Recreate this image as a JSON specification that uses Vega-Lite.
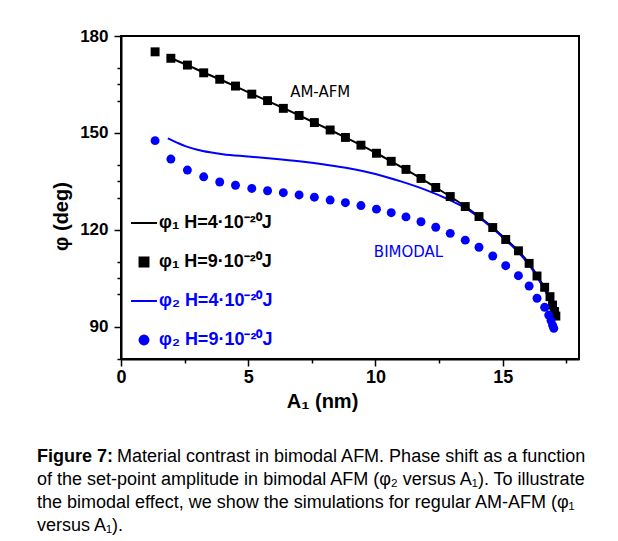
{
  "$schema": "https://vega.github.io/schema/vega-lite/v6.json",
  "width": 458,
  "height": 323,
  "autosize": {"type": "none"},
  "padding": {"left": 121, "top": 36, "right": 39, "bottom": 182},
  "background": "white",
  "config": {
    "view": {"stroke": "black", "strokeWidth": 2},
    "font": "Liberation Sans"
  },
  "title": {
    "text": "Figure 7:",
    "subtitle": [
      "\u200b\u00a0\u00a0\u00a0\u00a0\u00a0\u00a0\u00a0\u00a0\u00a0\u00a0\u00a0\u00a0\u00a0\u00a0\u00a0\u00a0Material contrast in bimodal AFM. Phase shift as a function",
      "of the set-point amplitude in bimodal AFM (φ₂ versus A₁). To illustrate",
      "the bimodal effect, we show the simulations for regular AM-AFM (φ₁",
      "versus A₁)."
    ],
    "orient": "bottom",
    "anchor": "start",
    "frame": "group",
    "font": "Liberation Sans",
    "fontSize": 18,
    "fontWeight": "bold",
    "color": "black",
    "subtitleFont": "Liberation Sans",
    "subtitleFontSize": 18,
    "subtitleFontWeight": "normal",
    "subtitleColor": "black",
    "subtitleLineHeight": 23,
    "subtitlePadding": -18,
    "offset": 37,
    "dx": -84
  },
  "datasets": {
    "lines": [
      {"series": "φ₁ H=4·10⁻²⁰J", "A1": 1.96, "phi": 173.1},
      {"series": "φ₁ H=4·10⁻²⁰J", "A1": 2.61, "phi": 171.0},
      {"series": "φ₁ H=4·10⁻²⁰J", "A1": 3.25, "phi": 168.7},
      {"series": "φ₁ H=4·10⁻²⁰J", "A1": 3.88, "phi": 166.6},
      {"series": "φ₁ H=4·10⁻²⁰J", "A1": 4.5, "phi": 164.4},
      {"series": "φ₁ H=4·10⁻²⁰J", "A1": 5.14, "phi": 162.1},
      {"series": "φ₁ H=4·10⁻²⁰J", "A1": 5.76, "phi": 159.9},
      {"series": "φ₁ H=4·10⁻²⁰J", "A1": 6.38, "phi": 157.7},
      {"series": "φ₁ H=4·10⁻²⁰J", "A1": 7.0, "phi": 155.4},
      {"series": "φ₁ H=4·10⁻²⁰J", "A1": 7.6, "phi": 153.2},
      {"series": "φ₁ H=4·10⁻²⁰J", "A1": 8.22, "phi": 150.9},
      {"series": "φ₁ H=4·10⁻²⁰J", "A1": 8.82, "phi": 148.6},
      {"series": "φ₁ H=4·10⁻²⁰J", "A1": 9.43, "phi": 146.2},
      {"series": "φ₁ H=4·10⁻²⁰J", "A1": 10.04, "phi": 143.7},
      {"series": "φ₁ H=4·10⁻²⁰J", "A1": 10.62, "phi": 141.2},
      {"series": "φ₁ H=4·10⁻²⁰J", "A1": 11.2, "phi": 138.6},
      {"series": "φ₁ H=4·10⁻²⁰J", "A1": 11.79, "phi": 135.9},
      {"series": "φ₁ H=4·10⁻²⁰J", "A1": 12.37, "phi": 133.1},
      {"series": "φ₁ H=4·10⁻²⁰J", "A1": 12.94, "phi": 130.3},
      {"series": "φ₁ H=4·10⁻²⁰J", "A1": 13.53, "phi": 127.2},
      {"series": "φ₁ H=4·10⁻²⁰J", "A1": 14.07, "phi": 124.1},
      {"series": "φ₁ H=4·10⁻²⁰J", "A1": 14.61, "phi": 120.7},
      {"series": "φ₁ H=4·10⁻²⁰J", "A1": 15.12, "phi": 117.1},
      {"series": "φ₁ H=4·10⁻²⁰J", "A1": 15.62, "phi": 113.4},
      {"series": "φ₁ H=4·10⁻²⁰J", "A1": 16.04, "phi": 109.6},
      {"series": "φ₁ H=4·10⁻²⁰J", "A1": 16.35, "phi": 105.9},
      {"series": "φ₁ H=4·10⁻²⁰J", "A1": 16.65, "phi": 102.0},
      {"series": "φ₁ H=4·10⁻²⁰J", "A1": 16.86, "phi": 98.9},
      {"series": "φ₁ H=4·10⁻²⁰J", "A1": 16.98, "phi": 96.0},
      {"series": "φ₁ H=4·10⁻²⁰J", "A1": 17.05, "phi": 94.0},
      {"series": "φ₁ H=4·10⁻²⁰J", "A1": 17.08, "phi": 93.0},
      {"series": "φ₂ H=4·10⁻²⁰J", "A1": 1.84, "phi": 148.3},
      {"series": "φ₂ H=4·10⁻²⁰J", "A1": 2.2, "phi": 147.0},
      {"series": "φ₂ H=4·10⁻²⁰J", "A1": 2.53, "phi": 145.9},
      {"series": "φ₂ H=4·10⁻²⁰J", "A1": 3.0, "phi": 144.8},
      {"series": "φ₂ H=4·10⁻²⁰J", "A1": 3.5, "phi": 144.0},
      {"series": "φ₂ H=4·10⁻²⁰J", "A1": 4.0, "phi": 143.4},
      {"series": "φ₂ H=4·10⁻²⁰J", "A1": 5.0, "phi": 142.7},
      {"series": "φ₂ H=4·10⁻²⁰J", "A1": 6.0, "phi": 142.0},
      {"series": "φ₂ H=4·10⁻²⁰J", "A1": 7.0, "phi": 141.2},
      {"series": "φ₂ H=4·10⁻²⁰J", "A1": 8.0, "phi": 140.2},
      {"series": "φ₂ H=4·10⁻²⁰J", "A1": 9.0, "phi": 139.0},
      {"series": "φ₂ H=4·10⁻²⁰J", "A1": 10.0, "phi": 137.3},
      {"series": "φ₂ H=4·10⁻²⁰J", "A1": 11.0, "phi": 135.0},
      {"series": "φ₂ H=4·10⁻²⁰J", "A1": 12.0, "phi": 132.3},
      {"series": "φ₂ H=4·10⁻²⁰J", "A1": 12.9, "phi": 129.3},
      {"series": "φ₂ H=4·10⁻²⁰J", "A1": 13.5, "phi": 126.9},
      {"series": "φ₂ H=4·10⁻²⁰J", "A1": 14.07, "phi": 123.8},
      {"series": "φ₂ H=4·10⁻²⁰J", "A1": 14.61, "phi": 120.4},
      {"series": "φ₂ H=4·10⁻²⁰J", "A1": 15.12, "phi": 116.8},
      {"series": "φ₂ H=4·10⁻²⁰J", "A1": 15.62, "phi": 113.0},
      {"series": "φ₂ H=4·10⁻²⁰J", "A1": 16.04, "phi": 109.1},
      {"series": "φ₂ H=4·10⁻²⁰J", "A1": 16.35, "phi": 105.4},
      {"series": "φ₂ H=4·10⁻²⁰J", "A1": 16.65, "phi": 101.4},
      {"series": "φ₂ H=4·10⁻²⁰J", "A1": 16.86, "phi": 98.1},
      {"series": "φ₂ H=4·10⁻²⁰J", "A1": 16.98, "phi": 95.0},
      {"series": "φ₂ H=4·10⁻²⁰J", "A1": 17.03, "phi": 93.0}
    ],
    "points": [
      {"series": "φ₁ H=9·10⁻²⁰J", "A1": 1.34, "phi": 175.1},
      {"series": "φ₁ H=9·10⁻²⁰J", "A1": 1.96, "phi": 173.1},
      {"series": "φ₁ H=9·10⁻²⁰J", "A1": 2.61, "phi": 171.0},
      {"series": "φ₁ H=9·10⁻²⁰J", "A1": 3.25, "phi": 168.6},
      {"series": "φ₁ H=9·10⁻²⁰J", "A1": 3.88, "phi": 166.6},
      {"series": "φ₁ H=9·10⁻²⁰J", "A1": 4.5, "phi": 164.5},
      {"series": "φ₁ H=9·10⁻²⁰J", "A1": 5.14, "phi": 162.0},
      {"series": "φ₁ H=9·10⁻²⁰J", "A1": 5.76, "phi": 160.0},
      {"series": "φ₁ H=9·10⁻²⁰J", "A1": 6.38, "phi": 157.6},
      {"series": "φ₁ H=9·10⁻²⁰J", "A1": 7.0, "phi": 155.4},
      {"series": "φ₁ H=9·10⁻²⁰J", "A1": 7.6, "phi": 153.2},
      {"series": "φ₁ H=9·10⁻²⁰J", "A1": 8.22, "phi": 150.9},
      {"series": "φ₁ H=9·10⁻²⁰J", "A1": 8.82, "phi": 148.6},
      {"series": "φ₁ H=9·10⁻²⁰J", "A1": 9.43, "phi": 146.2},
      {"series": "φ₁ H=9·10⁻²⁰J", "A1": 10.04, "phi": 143.7},
      {"series": "φ₁ H=9·10⁻²⁰J", "A1": 10.62, "phi": 141.2},
      {"series": "φ₁ H=9·10⁻²⁰J", "A1": 11.2, "phi": 138.7},
      {"series": "φ₁ H=9·10⁻²⁰J", "A1": 11.79, "phi": 135.9},
      {"series": "φ₁ H=9·10⁻²⁰J", "A1": 12.37, "phi": 133.1},
      {"series": "φ₁ H=9·10⁻²⁰J", "A1": 12.94, "phi": 130.3},
      {"series": "φ₁ H=9·10⁻²⁰J", "A1": 13.53, "phi": 127.2},
      {"series": "φ₁ H=9·10⁻²⁰J", "A1": 14.07, "phi": 124.1},
      {"series": "φ₁ H=9·10⁻²⁰J", "A1": 14.61, "phi": 120.7},
      {"series": "φ₁ H=9·10⁻²⁰J", "A1": 15.12, "phi": 117.0},
      {"series": "φ₁ H=9·10⁻²⁰J", "A1": 15.62, "phi": 113.5},
      {"series": "φ₁ H=9·10⁻²⁰J", "A1": 16.04, "phi": 109.6},
      {"series": "φ₁ H=9·10⁻²⁰J", "A1": 16.35, "phi": 105.7},
      {"series": "φ₁ H=9·10⁻²⁰J", "A1": 16.65, "phi": 102.2},
      {"series": "φ₁ H=9·10⁻²⁰J", "A1": 16.86, "phi": 99.3},
      {"series": "φ₁ H=9·10⁻²⁰J", "A1": 16.96, "phi": 96.7},
      {"series": "φ₁ H=9·10⁻²⁰J", "A1": 17.04, "phi": 94.7},
      {"series": "φ₁ H=9·10⁻²⁰J", "A1": 17.09, "phi": 93.3},
      {"series": "φ₂ H=9·10⁻²⁰J", "A1": 1.34, "phi": 147.6},
      {"series": "φ₂ H=9·10⁻²⁰J", "A1": 1.96, "phi": 141.9},
      {"series": "φ₂ H=9·10⁻²⁰J", "A1": 2.61, "phi": 138.5},
      {"series": "φ₂ H=9·10⁻²⁰J", "A1": 3.25, "phi": 136.4},
      {"series": "φ₂ H=9·10⁻²⁰J", "A1": 3.88, "phi": 134.8},
      {"series": "φ₂ H=9·10⁻²⁰J", "A1": 4.5, "phi": 133.8},
      {"series": "φ₂ H=9·10⁻²⁰J", "A1": 5.14, "phi": 132.8},
      {"series": "φ₂ H=9·10⁻²⁰J", "A1": 5.76, "phi": 132.1},
      {"series": "φ₂ H=9·10⁻²⁰J", "A1": 6.38, "phi": 131.5},
      {"series": "φ₂ H=9·10⁻²⁰J", "A1": 7.0, "phi": 130.8},
      {"series": "φ₂ H=9·10⁻²⁰J", "A1": 7.6, "phi": 130.1},
      {"series": "φ₂ H=9·10⁻²⁰J", "A1": 8.22, "phi": 129.2},
      {"series": "φ₂ H=9·10⁻²⁰J", "A1": 8.82, "phi": 128.4},
      {"series": "φ₂ H=9·10⁻²⁰J", "A1": 9.43, "phi": 127.5},
      {"series": "φ₂ H=9·10⁻²⁰J", "A1": 10.04, "phi": 126.4},
      {"series": "φ₂ H=9·10⁻²⁰J", "A1": 10.62, "phi": 125.3},
      {"series": "φ₂ H=9·10⁻²⁰J", "A1": 11.2, "phi": 124.0},
      {"series": "φ₂ H=9·10⁻²⁰J", "A1": 11.79, "phi": 122.5},
      {"series": "φ₂ H=9·10⁻²⁰J", "A1": 12.37, "phi": 120.8},
      {"series": "φ₂ H=9·10⁻²⁰J", "A1": 12.94, "phi": 118.9},
      {"series": "φ₂ H=9·10⁻²⁰J", "A1": 13.53, "phi": 116.8},
      {"series": "φ₂ H=9·10⁻²⁰J", "A1": 14.07, "phi": 114.6},
      {"series": "φ₂ H=9·10⁻²⁰J", "A1": 14.61, "phi": 111.9},
      {"series": "φ₂ H=9·10⁻²⁰J", "A1": 15.12, "phi": 108.9},
      {"series": "φ₂ H=9·10⁻²⁰J", "A1": 15.62, "phi": 105.8},
      {"series": "φ₂ H=9·10⁻²⁰J", "A1": 16.04, "phi": 102.6},
      {"series": "φ₂ H=9·10⁻²⁰J", "A1": 16.35, "phi": 98.8},
      {"series": "φ₂ H=9·10⁻²⁰J", "A1": 16.65, "phi": 96.0},
      {"series": "φ₂ H=9·10⁻²⁰J", "A1": 16.81, "phi": 93.6},
      {"series": "φ₂ H=9·10⁻²⁰J", "A1": 16.9, "phi": 91.9},
      {"series": "φ₂ H=9·10⁻²⁰J", "A1": 16.96, "phi": 90.5},
      {"series": "φ₂ H=9·10⁻²⁰J", "A1": 17.01, "phi": 89.5}
    ],
    "notes": [
      {"label": "AM-AFM", "A1": 7.83, "phi": 162.8},
      {"label": "BIMODAL", "A1": 11.3, "phi": 113.2}
    ]
  },
  "encoding": {
    "x": {
      "field": "A1",
      "type": "quantitative",
      "scale": {"domain": [0, 18], "nice": false, "zero": false},
      "axis": {
        "title": "A₁ (nm)",
        "values": [0, 2.5, 5, 7.5, 10, 12.5, 15, 17.5],
        "labelExpr": "datum.value % 5 === 0 ? datum.label : ''",
        "tickSize": {"condition": {"test": "datum.value % 5 === 0", "value": 7}, "value": 4},
        "grid": false,
        "domainColor": "black",
        "domainWidth": 2,
        "tickColor": "black",
        "tickWidth": 1.5,
        "labelFont": "Liberation Sans",
        "labelFontSize": 18,
        "labelFontWeight": "bold",
        "labelColor": "black",
        "labelPadding": 2,
        "labelOverlap": false,
        "labelFlush": false,
        "titleFont": "Liberation Sans",
        "titleFontSize": 20,
        "titleFontWeight": "bold",
        "titleColor": "black",
        "titlePadding": 5,
        "titleX": 201
      }
    },
    "y": {
      "field": "phi",
      "type": "quantitative",
      "scale": {"domain": [80, 180], "nice": false, "zero": false},
      "axis": {
        "title": "φ (deg)",
        "values": [80, 90, 100, 105, 110, 120, 130, 135, 140, 150, 160, 165, 170, 180],
        "labelExpr": "datum.value % 30 === 0 ? datum.label : ''",
        "tickSize": {"condition": {"test": "datum.value % 30 === 0", "value": 7}, "value": 4},
        "grid": false,
        "domainColor": "black",
        "domainWidth": 2,
        "tickColor": "black",
        "tickWidth": 1.5,
        "labelFont": "Liberation Sans",
        "labelFontSize": 17,
        "labelFontWeight": "bold",
        "labelColor": "black",
        "labelPadding": 6,
        "labelOverlap": false,
        "labelFlush": false,
        "titleFont": "Liberation Sans",
        "titleFontSize": 20,
        "titleFontWeight": "bold",
        "titleColor": "black",
        "titlePadding": 8,
        "titleY": 180
      }
    }
  },
  "layer": [
    {
      "data": {"name": "lines"},
      "mark": {"type": "line", "strokeWidth": 2, "interpolate": "monotone"},
      "encoding": {
        "color": {
          "field": "series",
          "type": "nominal",
          "scale": {
            "domain": ["φ₁ H=4·10⁻²⁰J", "φ₁ H=9·10⁻²⁰J", "φ₂ H=4·10⁻²⁰J", "φ₂ H=9·10⁻²⁰J"],
            "range": ["#000000", "#000000", "#0000ff", "#0000ff"]
          },
          "legend": {
            "title": null,
            "orient": "none",
            "legendX": 14,
            "legendY": 178,
            "padding": 0,
            "labelFont": "Liberation Sans",
            "labelFontSize": 18,
            "labelFontWeight": "bold",
            "labelColor": {"expr": "indexof(datum.label, 'φ₂') >= 0 ? '#0000ff' : '#000000'"},
            "labelOffset": 6,
            "labelLimit": 0,
            "rowPadding": 21,
            "symbolSize": 80,
            "symbolStrokeWidth": 2,
            "symbolStrokeColor": {"expr": "indexof(datum.value, 'φ₂') >= 0 ? '#0000ff' : '#000000'"}
          }
        }
      }
    },
    {
      "data": {"name": "points"},
      "mark": {"type": "point", "filled": true, "opacity": 1, "size": 80},
      "encoding": {
        "color": {
          "field": "series",
          "type": "nominal",
          "scale": {
            "domain": ["φ₁ H=4·10⁻²⁰J", "φ₁ H=9·10⁻²⁰J", "φ₂ H=4·10⁻²⁰J", "φ₂ H=9·10⁻²⁰J"],
            "range": ["#000000", "#000000", "#0000ff", "#0000ff"]
          }
        },
        "shape": {
          "field": "series",
          "type": "nominal",
          "scale": {
            "domain": ["φ₁ H=4·10⁻²⁰J", "φ₁ H=9·10⁻²⁰J", "φ₂ H=4·10⁻²⁰J", "φ₂ H=9·10⁻²⁰J"],
            "range": ["M-2.9,0H2.9", "square", "M-2.9,0H2.9", "circle"]
          }
        }
      }
    },
    {
      "data": {"name": "notes"},
      "mark": {"type": "text", "font": "DejaVu Sans", "fontSize": 15, "align": "center", "baseline": "middle"},
      "encoding": {
        "text": {"field": "label", "type": "nominal"},
        "color": {"condition": {"test": "datum.label === 'BIMODAL'", "value": "#0000ff"}, "value": "#000000"}
      }
    }
  ]
}
